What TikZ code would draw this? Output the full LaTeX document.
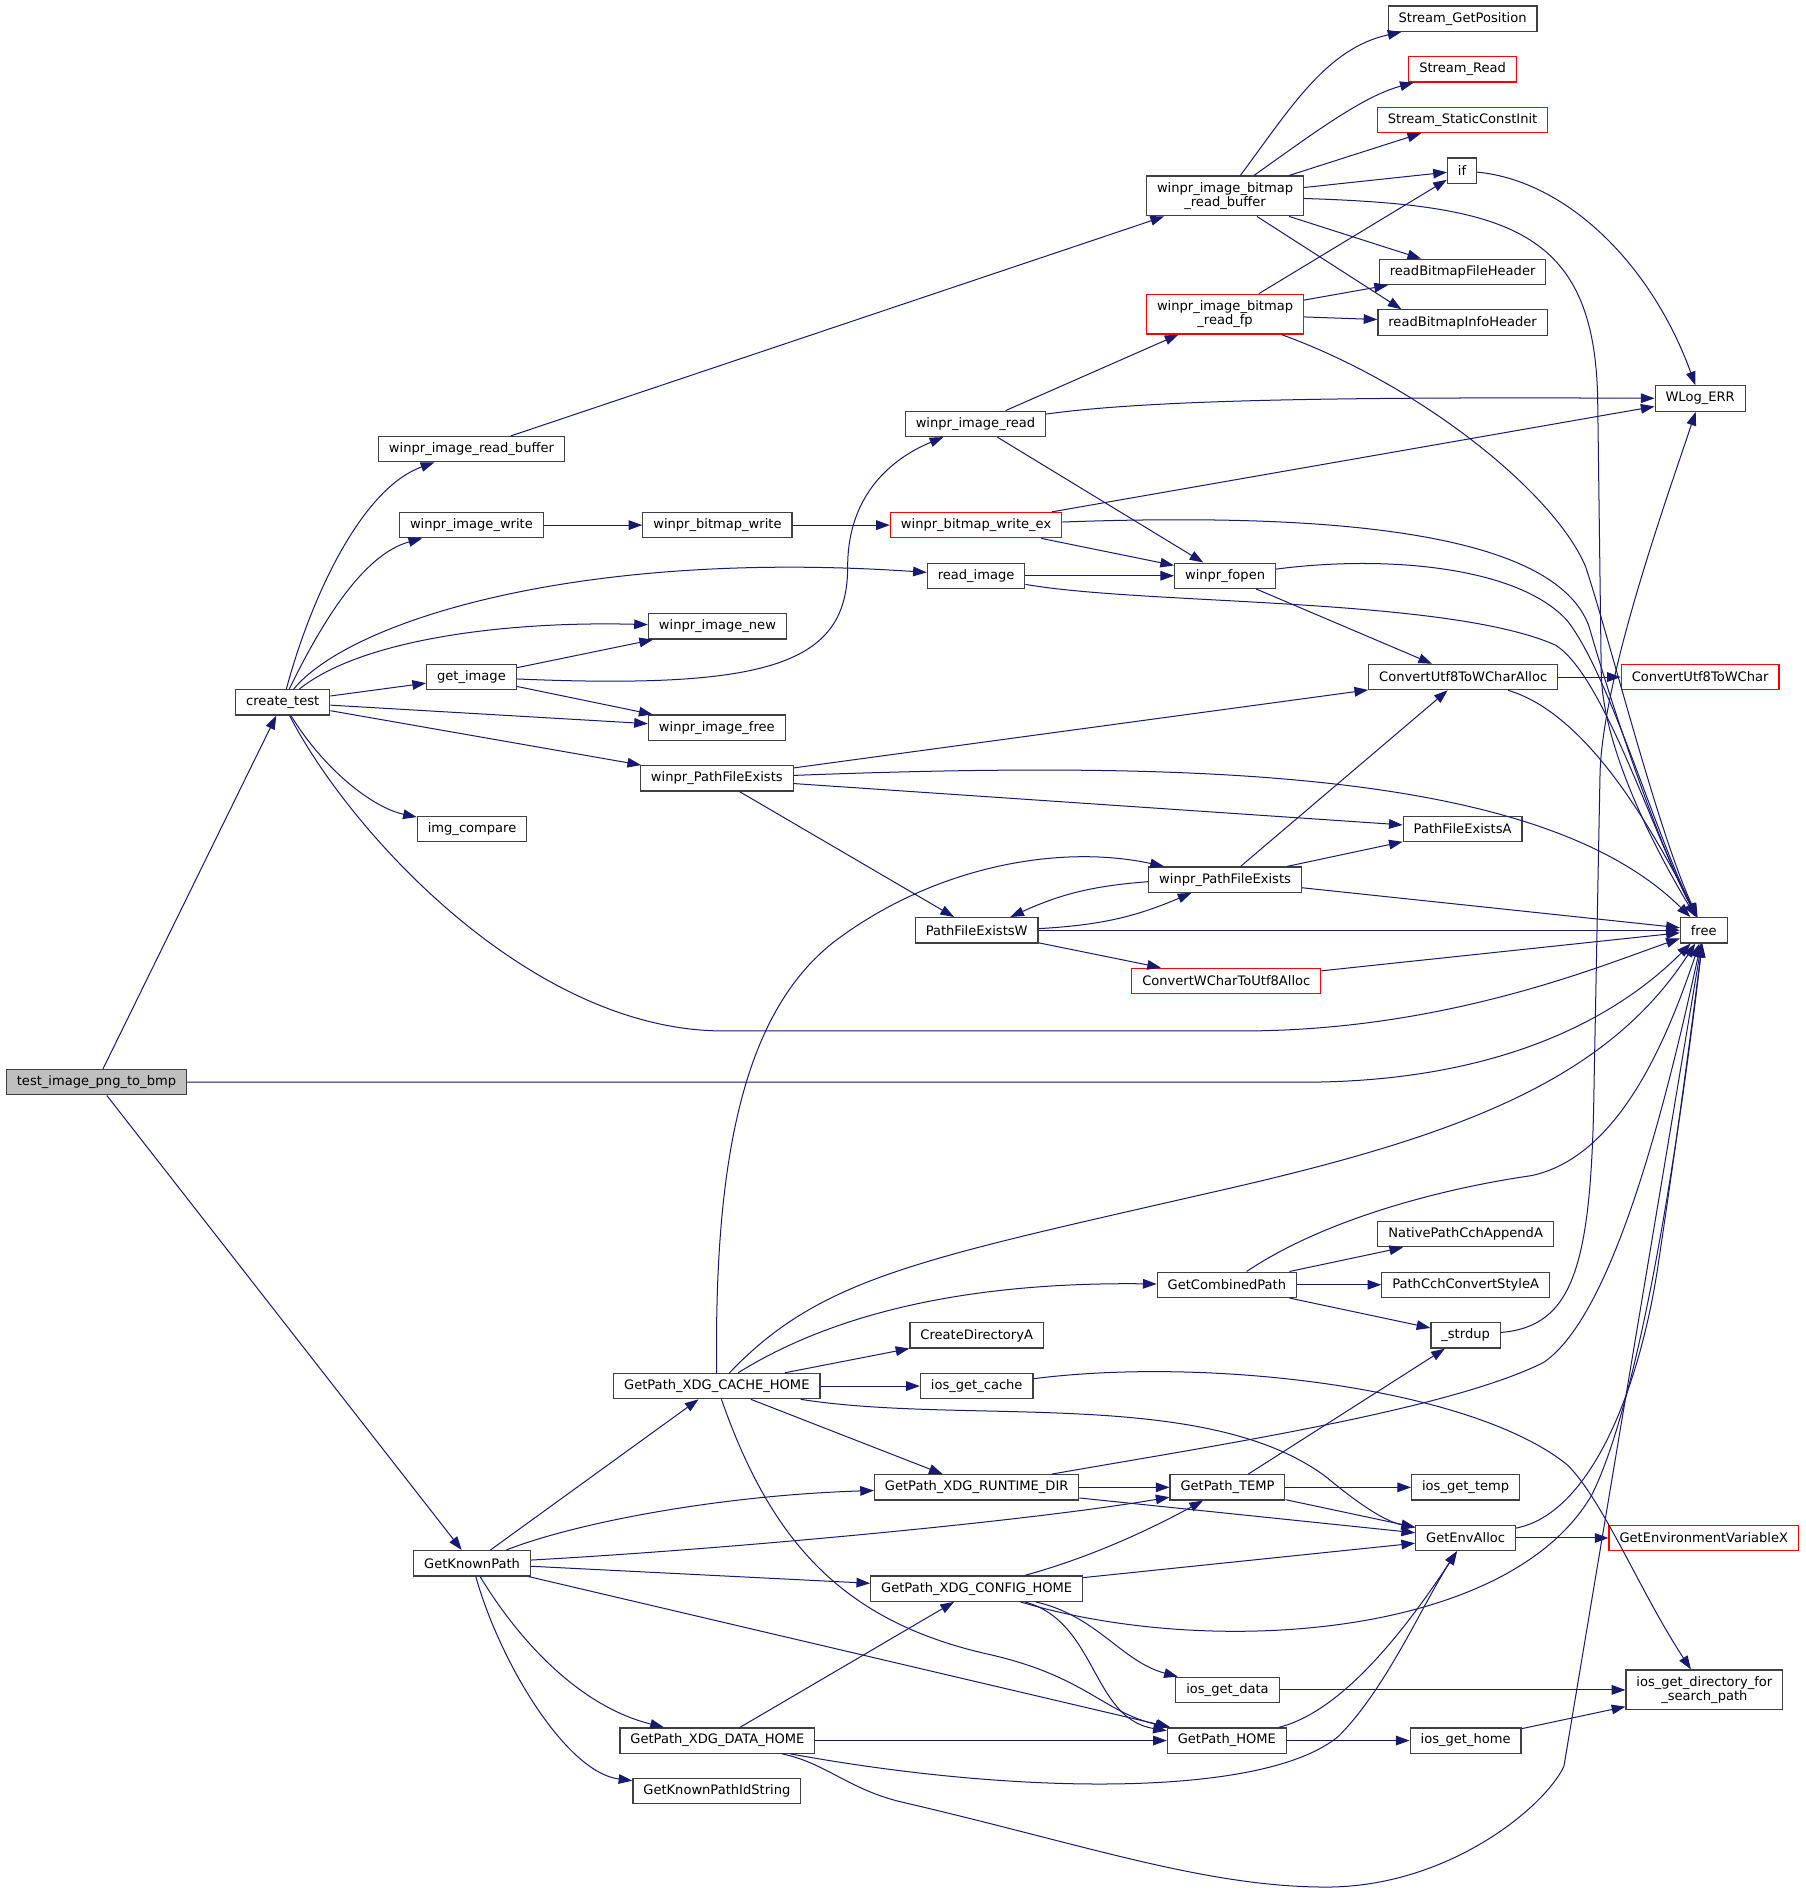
\documentclass[tikz,border=0pt]{standalone}
\usepackage{fontspec}
\setmainfont{DejaVu Sans}
\usepackage{xcolor}
\usepackage{tikz}
\usetikzlibrary{arrows.meta}
\definecolor{edgeblue}{HTML}{191970}
\definecolor{boxline}{HTML}{404040}

\begin{document}
\begin{tikzpicture}[x=0.6pt, y=-0.6pt, >={Triangle[length=6.8pt,width=4.8pt]},
every node/.style = {shape=rectangle, draw=boxline, line width=0.6pt, inner xsep=5.2pt, inner ysep=0pt, minimum height=12.6pt, font=\fontsize{6.5pt}{7.2pt}\selectfont, align=center},
redbox/.style = {draw=red},
rootbox/.style = {fill=gray!50},
twoline/.style = {minimum height=19.8pt},
call/.style = {->, draw=edgeblue, line width=0.5pt}]

\useasboundingbox (0,0) rectangle (1497,1571.6);

\node (testImagePngToBmp) [rootbox] at (80,897.5) {test\_image\_png\_to\_bmp};
\node (createTest) at (234.5,582.5) {create\_test};
\node (winprImageReadBuffer) at (391,372.5) {winpr\_image\_read\_buffer};
\node (winprImageWrite) at (391,435.5) {winpr\_image\_write};
\node (getImage) at (391,561.5) {get\_image};
\node (imgCompare) at (391.5,687.5) {img\_compare};
\node (getKnownPath) at (391.5,1296.5) {GetKnownPath};
\node (winprBitmapWrite) at (595,435.5) {winpr\_bitmap\_write};
\node (winprImageNew) at (595,519.5) {winpr\_image\_new};
\node (winprImageFree) at (594.5,603.5) {winpr\_image\_free};
\node (winprPathFileExistsL) at (594.5,645.5) {winpr\_PathFileExists};
\node (getPathXdgCacheHome) at (594.5,1149.5) {GetPath\_XDG\_CACHE\_HOME};
\node (getPathXdgDataHome) at (595,1443.5) {GetPath\_XDG\_DATA\_HOME};
\node (getKnownPathIdString) at (594.5,1485.5) {GetKnownPathIdString};
\node (winprImageRead) at (809,351.5) {winpr\_image\_read};
\node (winprBitmapWriteEx) [redbox] at (809.5,435.5) {winpr\_bitmap\_write\_ex};
\node (readImage) at (809.5,477.5) {read\_image};
\node (pathFileExistsW) at (810,771.5) {PathFileExistsW};
\node (createDirectoryA) at (810,1107.5) {CreateDirectoryA};
\node (iosGetCache) at (810,1149.5) {ios\_get\_cache};
\node (getPathXdgRuntimeDir) at (810,1233.5) {GetPath\_XDG\_RUNTIME\_DIR};
\node (getPathXdgConfigHome) at (810,1317.5) {GetPath\_XDG\_CONFIG\_HOME};
\node (imageBitmapReadBuffer) [twoline] at (1016,162.5) {winpr\_image\_bitmap\\\_read\_buffer};
\node (imageBitmapReadFp) [twoline, redbox] at (1016,260.5) {winpr\_image\_bitmap\\\_read\_fp};
\node (winprFopen) at (1016,477.5) {winpr\_fopen};
\node (winprPathFileExistsR) at (1016,729.5) {winpr\_PathFileExists};
\node (convertWCharToUtf8Alloc) [redbox] at (1017,813.5) {ConvertWCharToUtf8Alloc};
\node (getCombinedPath) at (1017.5,1065.5) {GetCombinedPath};
\node (getPathTemp) at (1018,1233.5) {GetPath\_TEMP};
\node (iosGetData) at (1018,1401.5) {ios\_get\_data};
\node (getPathHome) at (1017.5,1443.5) {GetPath\_HOME};
\node (streamGetPosition) at (1213,15.5) {Stream\_GetPosition};
\node (streamRead) [redbox] at (1213,57.5) {Stream\_Read};
\node (streamStaticConstInit) [redbox] at (1213,99.5) {Stream\_StaticConstInit};
\node (ifNode) at (1212.5,141.5) {if};
\node (readBitmapFileHeader) at (1213,225.5) {readBitmapFileHeader};
\node (readBitmapInfoHeader) at (1213,267.5) {readBitmapInfoHeader};
\node (convertUtf8ToWCharAlloc) at (1213.5,561.5) {ConvertUtf8ToWCharAlloc};
\node (pathFileExistsA) at (1213,687.5) {PathFileExistsA};
\node (nativePathCchAppendA) at (1215.5,1023.5) {NativePathCchAppendA};
\node (pathCchConvertStyleA) at (1215.5,1065.5) {PathCchConvertStyleA};
\node (strdupNode) at (1215.5,1107.5) {\_strdup};
\node (iosGetTemp) at (1215.5,1233.5) {ios\_get\_temp};
\node (getEnvAlloc) at (1215.5,1275.5) {GetEnvAlloc};
\node (iosGetHome) at (1215.5,1443.5) {ios\_get\_home};
\node (wlogErr) at (1410,330.5) {WLog\_ERR};
\node (convertUtf8ToWChar) [redbox] at (1410,561.5) {ConvertUtf8ToWChar};
\node (free) at (1413,771.5) {free};
\node (getEnvironmentVariableX) [redbox] at (1413,1275.5) {GetEnvironmentVariableX};
\node (iosGetDirectory) [twoline] at (1413.5,1401.5) {ios\_get\_directory\_for\\\_search\_path};

\draw[call] (testImagePngToBmp) -- (createTest);
\draw[call] (testImagePngToBmp) -- (getKnownPath);
\draw[call] (testImagePngToBmp) -- (1080,897.5) .. controls (1250,897.5) and (1345,840) .. (free);

\draw[call] (createTest) .. controls (258,495) and (300,405) .. (winprImageReadBuffer);
\draw[call] (createTest) .. controls (265,520) and (300,460) .. (winprImageWrite);
\draw[call] (createTest) .. controls (290,515) and (480,455) .. (readImage);
\draw[call] (createTest) .. controls (300,530) and (420,515) .. (winprImageNew);
\draw[call] (createTest) -- (getImage);
\draw[call] (createTest) -- (winprImageFree);
\draw[call] (createTest) -- (winprPathFileExistsL);
\draw[call] (createTest) .. controls (270,640) and (310,670) .. (imgCompare);
\draw[call] (createTest) .. controls (290,690) and (440,855) .. (600,855) -- (1030,855) .. controls (1200,855) and (1330,800) .. (free);

\draw[call] (getImage) -- (winprImageNew);
\draw[call] (getImage) -- (winprImageFree);
\draw[call] (getImage) .. controls (640,572) and (703,550) .. (703,470) .. controls (703,410) and (740,380) .. (winprImageRead);

\draw[call] (winprImageReadBuffer) -- (imageBitmapReadBuffer);
\draw[call] (winprImageWrite) -- (winprBitmapWrite);
\draw[call] (winprBitmapWrite) -- (winprBitmapWriteEx);

\draw[call] (winprBitmapWriteEx) -- (wlogErr);
\draw[call] (winprBitmapWriteEx) -- (winprFopen);
\draw[call] (winprBitmapWriteEx) .. controls (1100,425) and (1290,440) .. (1318,520) .. controls (1335,580) and (1375,700) .. (free);

\draw[call] (readImage) -- (winprFopen);
\draw[call] (readImage) .. controls (950,502) and (1200,495) .. (1290,535) .. controls (1330,560) and (1370,690) .. (free);

\draw[call] (winprImageRead) -- (imageBitmapReadFp);
\draw[call] (winprImageRead) .. controls (950,332) and (1100,329) .. (wlogErr);
\draw[call] (winprImageRead) -- (winprFopen);

\draw[call] (imageBitmapReadBuffer) .. controls (1070,90) and (1100,40) .. (streamGetPosition);
\draw[call] (imageBitmapReadBuffer) .. controls (1090,110) and (1130,80) .. (streamRead);
\draw[call] (imageBitmapReadBuffer) -- (streamStaticConstInit);
\draw[call] (imageBitmapReadBuffer) -- (ifNode);
\draw[call] (imageBitmapReadBuffer) -- (readBitmapFileHeader);
\draw[call] (imageBitmapReadBuffer) -- ([xshift=12pt]readBitmapInfoHeader.north west);
\draw[call] (imageBitmapReadBuffer) .. controls (1250,170) and (1322,190) .. (1325,330) -- (1328,560) .. controls (1330,620) and (1370,700) .. (free);

\draw[call] (imageBitmapReadFp) -- (ifNode);
\draw[call] (imageBitmapReadFp) -- (readBitmapFileHeader);
\draw[call] (imageBitmapReadFp) -- (readBitmapInfoHeader);
\draw[call] (imageBitmapReadFp) .. controls (1180,320) and (1290,410) .. (1315,470) .. controls (1335,530) and (1375,690) .. (free);

\draw[call] (ifNode) .. controls (1300,150) and (1370,220) .. (wlogErr);

\draw[call] (winprFopen) -- (convertUtf8ToWCharAlloc);
\draw[call] (winprFopen) .. controls (1150,460) and (1260,470) .. (1300,515) .. controls (1335,560) and (1372,690) .. (free);

\draw[call] (convertUtf8ToWCharAlloc) -- (convertUtf8ToWChar);
\draw[call] (convertUtf8ToWCharAlloc) .. controls (1310,590) and (1362,670) .. (free);

\draw[call] (winprPathFileExistsL) -- (convertUtf8ToWCharAlloc);
\draw[call] (winprPathFileExistsL) .. controls (1000,630) and (1280,640) .. (free);
\draw[call] (winprPathFileExistsL) -- (pathFileExistsA);
\draw[call] (winprPathFileExistsL) -- (pathFileExistsW);

\draw[call] (winprPathFileExistsR) -- (convertUtf8ToWCharAlloc);
\draw[call] (winprPathFileExistsR) -- (pathFileExistsA);
\draw[call] (winprPathFileExistsR) to[bend right=10] (pathFileExistsW);
\draw[call] (winprPathFileExistsR) -- (free);

\draw[call] (pathFileExistsW) to[bend right=10] (winprPathFileExistsR);
\draw[call] (pathFileExistsW) -- (free);
\draw[call] (pathFileExistsW) -- (convertWCharToUtf8Alloc);
\draw[call] (convertWCharToUtf8Alloc) -- (free);

\draw[call] (getPathXdgCacheHome) .. controls (592,950) and (620,830) .. (700,775) .. controls (780,718) and (880,700) .. (winprPathFileExistsR);
\draw[call] (getPathXdgCacheHome) .. controls (680,1060) and (760,1045) .. (1000,990) .. controls (1200,945) and (1330,900) .. (free);
\draw[call] (getPathXdgCacheHome) .. controls (690,1090) and (800,1063) .. (getCombinedPath);
\draw[call] (getPathXdgCacheHome) -- (createDirectoryA);
\draw[call] (getPathXdgCacheHome) -- (iosGetCache);
\draw[call] (getPathXdgCacheHome) -- (getPathXdgRuntimeDir);
\draw[call] (getPathXdgCacheHome) .. controls (800,1182) and (1000,1150) .. (1100,1225) .. controls (1130,1250) and (1150,1262) .. (getEnvAlloc);
\draw[call] (getPathXdgCacheHome) .. controls (640,1280) and (700,1345) .. (820,1372) .. controls (900,1390) and (915,1420) .. (getPathHome);

\draw[call] (getCombinedPath) .. controls (1100,1010) and (1200,985) .. (1270,975) .. controls (1340,960) and (1380,870) .. (free);
\draw[call] (getCombinedPath) -- (nativePathCchAppendA);
\draw[call] (getCombinedPath) -- (pathCchConvertStyleA);
\draw[call] (getCombinedPath) -- (strdupNode);

\draw[call] (strdupNode) .. controls (1305,1100) and (1320,1050) .. (1322,900) -- (1327,640) .. controls (1330,560) and (1380,420) .. (wlogErr);

\draw[call] (iosGetCache) .. controls (1000,1125) and (1220,1150) .. (1300,1215) .. controls (1330,1245) and (1360,1320) .. (iosGetDirectory);

\draw[call] (getPathXdgRuntimeDir) -- (getPathTemp);
\draw[call] (getPathXdgRuntimeDir) -- (getEnvAlloc);
\draw[call] (getPathXdgRuntimeDir) .. controls (1000,1200) and (1200,1170) .. (1280,1130) .. controls (1340,1090) and (1385,900) .. (free);

\draw[call] (getPathTemp) -- (strdupNode);
\draw[call] (getPathTemp) -- (iosGetTemp);
\draw[call] (getPathTemp) -- (getEnvAlloc);

\draw[call] (getEnvAlloc) -- (getEnvironmentVariableX);
\draw[call] (getEnvAlloc) .. controls (1320,1255) and (1360,1150) .. (1375,1050) .. controls (1390,950) and (1402,860) .. (free);

\draw[call] (getKnownPath) -- (getPathXdgCacheHome);
\draw[call] (getKnownPath) .. controls (480,1262) and (600,1240) .. (getPathXdgRuntimeDir);
\draw[call] (getKnownPath) .. controls (600,1285) and (850,1262) .. (getPathTemp);
\draw[call] (getKnownPath) -- (getPathXdgConfigHome);
\draw[call] (getKnownPath) -- (getPathHome);
\draw[call] (getKnownPath) .. controls (430,1360) and (480,1415) .. (getPathXdgDataHome);
\draw[call] (getKnownPath) .. controls (415,1380) and (470,1470) .. (getKnownPathIdString);

\draw[call] (getPathXdgConfigHome) .. controls (910,1290) and (960,1265) .. (getPathTemp);
\draw[call] (getPathXdgConfigHome) -- (getEnvAlloc);
\draw[call] (getPathXdgConfigHome) .. controls (1000,1375) and (1250,1360) .. (1320,1240) .. controls (1365,1150) and (1398,900) .. (free);
\draw[call] (getPathXdgConfigHome) .. controls (910,1340) and (930,1378) .. (iosGetData);
\draw[call] (getPathXdgConfigHome) .. controls (910,1345) and (905,1425) .. (getPathHome);

\draw[call] (getPathXdgDataHome) -- (getPathXdgConfigHome);
\draw[call] (getPathXdgDataHome) -- (getPathHome);
\draw[call] (getPathXdgDataHome) .. controls (850,1490) and (1050,1490) .. (1110,1440) .. controls (1150,1400) and (1180,1330) .. (getEnvAlloc);
\draw[call] (getPathXdgDataHome) .. controls (685,1462) and (705,1485) .. (750,1495) .. controls (900,1530) and (1000,1565) .. (1100,1565) .. controls (1200,1565) and (1280,1500) .. (1297,1465) -- (free);

\draw[call] (getPathHome) -- (iosGetHome);
\draw[call] (getPathHome) .. controls (1110,1420) and (1160,1360) .. (getEnvAlloc);

\draw[call] (iosGetData) -- (iosGetDirectory);
\draw[call] (iosGetHome) -- (iosGetDirectory);
\end{tikzpicture}
\end{document}
